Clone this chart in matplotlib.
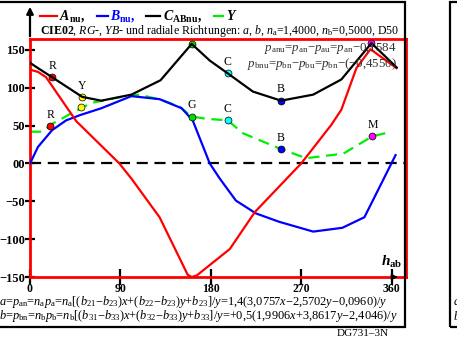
import matplotlib
matplotlib.use('Agg')
import matplotlib.pyplot as plt
from matplotlib.patches import Rectangle

plt.rcParams['font.family'] = ['Liberation Serif', 'DejaVu Serif']
plt.rcParams['mathtext.fontset'] = 'custom'
plt.rcParams['mathtext.rm'] = 'Liberation Serif'
plt.rcParams['mathtext.it'] = 'Liberation Serif:italic'
plt.rcParams['mathtext.bf'] = 'Liberation Serif:bold'
plt.rcParams['mathtext.bfit'] = 'Liberation Serif:italic:bold'

# data
hue_a = [0, 8, 16, 46, 89, 101, 129, 157, 161, 166, 199, 224, 270, 300, 310, 325, 339, 365]
a_nu = [124, 121, 114, 56, 0, -20, -71, -147, -150, -148, -113, -64, 0, 51, 71, 126, 151, 126]

hue_b = [0, 8, 22, 36, 50, 71, 101, 129, 151, 162, 179, 189, 205, 225, 248, 282, 311, 333, 364]
b_nu = [0, 22, 44, 57, 64, 73, 89, 85, 73, 57, 0, -20, -49, -66, -77, -90, -85, -71, 11]

hue_c = [0, 8, 22, 52, 71, 101, 130, 161, 179, 197, 222, 250, 282, 310, 340, 365]
c_abnu = [133, 126, 114, 88, 83, 91, 110, 158, 136, 119, 95, 83, 91, 111, 159, 127]

hue_y = [0, 12, 23, 45, 61, 91, 109, 131, 149, 161, 176, 197, 212, 250, 275, 312, 341, 357]
y_val = [42, 42, 53, 69, 80, 88, 91, 84, 75, 62, 59, 57, 40, 19, 7, 13, 36, 41]

names = ['R', 'Y', 'G', 'C', 'B', 'M']
mcolors = ['#ff0000', '#ffff00', '#00dd00', '#00ffff', '#0000ff', '#ff00ff']
hue_up = [22, 52, 161, 197, 250, 340]
c_up = [114, 88, 158, 119, 83, 159]
hue_low = [20, 51, 161, 197, 250, 341]
y_low = [49, 74, 62, 57, 19, 36]
show_up = [True, True, False, True, True, False]
show_low = [True, False, True, True, True, True]

yticks = [150, 100, 50, 0, -50, -100, -150]
ylabels = ['150', '100', '50', '00', '\u221250', '\u2212100', '\u2212150']
xticks = [0, 90, 180, 270, 360]

W, H = 457, 340
fig = plt.figure(figsize=(W / 100, H / 100), dpi=100)


def fx(px):
    return px / W


def fy(py):
    return 1 - py / H


# outer frames
fig.patches.append(Rectangle((fx(-5), fy(327)), fx(410), 325 / H, transform=fig.transFigure,
                             fill=False, edgecolor='black', linewidth=1.6))
fig.patches.append(Rectangle((fx(450), fy(327)), fx(20), 325 / H, transform=fig.transFigure,
                             fill=False, edgecolor='black', linewidth=1.6))

ax = fig.add_axes([fx(30), fy(277), fx(376), 238 / H])
ax.set_xlim(0, 374.4)
ax.set_ylim(-150, 164.5)
for s in ax.spines.values():
    s.set_color('red')
    s.set_linewidth(2)
ax.patch.set_alpha(0)

ax.axhline(0, color='black', lw=1.6, ls=(0, (5, 3)), zorder=1)

ax.plot(hue_y, y_val, color='#00ee00', lw=1.6, ls=(0, (5, 3)), zorder=2)
ax.plot(hue_b, b_nu, color='#0000ff', lw=1.6, zorder=3)
ax.plot(hue_a, a_nu, color='#ff0000', lw=1.6, zorder=3)

for i in range(len(names)):
    ax.plot(hue_up[i], c_up[i], 'o', ms=5, mfc=mcolors[i], mec='black', mew=0.5, zorder=4)
    ax.plot(hue_low[i], y_low[i], 'o', ms=5, mfc=mcolors[i], mec='black', mew=0.5, zorder=6)
    if show_up[i]:
        ax.text(hue_up[i], c_up[i] + 7, names[i], ha='center', va='bottom', fontsize=8.5, zorder=7)
    if show_low[i]:
        ax.text(hue_low[i], y_low[i] + 7, names[i], ha='center', va='bottom', fontsize=8.5, zorder=7)
ax.plot(hue_c, c_abnu, color='black', lw=1.6, zorder=5)

ax.set_yticks(yticks)
ax.set_yticklabels(ylabels, fontweight='bold', fontsize=9)
ax.set_xticks(xticks)
ax.set_xticklabels([str(v) for v in xticks], fontweight='bold', fontsize=8.5)
ax.tick_params(axis='y', direction='inout', length=7, width=1.6, color='black', pad=0)
ax.tick_params(axis='x', direction='inout', length=11, width=1.6, color='black', pad=-1)

ax.annotate('', xy=(369, -150), xytext=(360, -150),
            arrowprops=dict(arrowstyle='-|>', color='black', lw=1.2, mutation_scale=8), zorder=8)
fig.add_artist(matplotlib.patches.FancyArrowPatch((fx(30), fy(39)), (fx(30), fy(4)),
                                                  transform=fig.transFigure, arrowstyle='-|>',
                                                  mutation_scale=10, color='black', lw=1.6))
ax.text(371, -141, r'$\mathbfit{h}_{\mathbf{ab}}$', ha='right', va='bottom', fontsize=11)

# legend row
fig.add_artist(plt.Line2D([fx(40), fx(57)], [fy(16), fy(16)], color='red', lw=1.6))
fig.text(fx(59), fy(16), r'$\mathbfit{A}_{\mathbf{nu}}$,', fontsize=10, fontweight='bold', va='center')
fig.add_artist(plt.Line2D([fx(97), fx(108)], [fy(16), fy(16)], color='blue', lw=1.6))
fig.text(fx(110), fy(16), r'$\mathbfit{B}_{\mathbf{nu}}$,', fontsize=10, fontweight='bold',
         color='blue', va='center')
fig.add_artist(plt.Line2D([fx(146), fx(160)], [fy(16), fy(16)], color='black', lw=1.6))
fig.text(fx(163), fy(16), r'$\mathbfit{C}_{\mathbf{ABnu}}$,', fontsize=10, fontweight='bold', va='center')
fig.add_artist(plt.Line2D([fx(214), fx(223)], [fy(16), fy(16)], color='#00ee00', lw=1.6))
fig.text(fx(226), fy(16), r'$\mathbfit{Y}$', fontsize=10, va='center')

fig.text(fx(40), fy(31), r'$\mathbf{CIE02}$, $RG$-, $YB$- und radiale Richtungen: $a$, $b$, '
         r'$n_{\rm a}$=1,4000, $n_{\rm b}$=0,5000, D50', fontsize=8.6, va='center')

fig.text(fx(397), fy(48), r'$p_{\rm anu}$=$p_{\rm an}$$-$$p_{\rm au}$=$p_{\rm an}$$-$0,1584',
         fontsize=9.3, ha='right', va='center', color='#333333')
fig.text(fx(397), fy(64), r'$p_{\rm bnu}$=$p_{\rm bn}$$-$$p_{\rm bu}$=$p_{\rm bn}$$-$($-$0,4550)',
         fontsize=9.3, ha='right', va='center', color='#333333')

fig.text(fx(-1), fy(302), r'$a$=$p_{\rm an}$=$n_{\rm a}p_{\rm a}$=$n_{\rm a}$[($b_{21}$$-$$b_{23}$)$x$'
         r'+($b_{22}$$-$$b_{23}$)$y$+$b_{23}$]/$y$=1,4(3,0757$x$$-$2,5702$y$$-$0,0960)/$y$',
         fontsize=8.9, va='center')
fig.text(fx(-1), fy(316), r'$b$=$p_{\rm bn}$=$n_{\rm b}p_{\rm b}$=$n_{\rm b}$[($b_{31}$$-$$b_{33}$)$x$'
         r'+($b_{32}$$-$$b_{33}$)$y$+$b_{33}$]/$y$=+0,5(1,9906$x$+3,8617$y$$-$2,4046)/$y$',
         fontsize=8.9, va='center')
fig.text(fx(363), fy(334), 'DG731\u20133N', fontsize=8, ha='center', va='center')

# edge of the next panel
fig.text(fx(453), fy(302), r'$a$', fontsize=8.9, va='center')
fig.text(fx(453), fy(316), r'$b$', fontsize=8.9, va='center')

fig.savefig('out.png', dpi=100)
